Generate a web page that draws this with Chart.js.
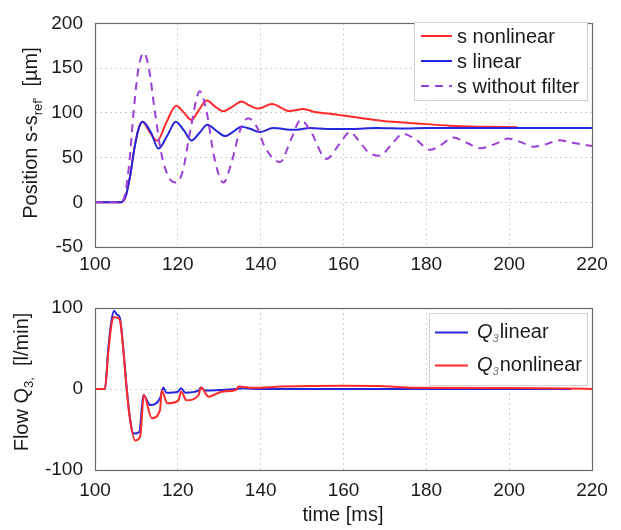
<!DOCTYPE html>
<html><head><meta charset="utf-8">
<script src="https://cdn.jsdelivr.net/npm/chart.js@4.4.1/dist/chart.umd.min.js"></script>
<style>
body{margin:0;background:#fff;width:621px;height:530px;overflow:hidden;position:relative}
#c1{position:absolute;left:0;top:0;width:621px;height:280px}
#c2{position:absolute;left:0;top:280px;width:621px;height:250px}
</style></head><body>
<canvas id="c1" width="621" height="280"></canvas>
<canvas id="c2" width="621" height="250"></canvas>
<script>
// ---------- data ----------
const xTickValues = [100, 120, 140, 160, 180, 200, 220];
const topYTicks = [-50, 0, 50, 100, 150, 200];
const bottomYTicks = [-100, 0, 100];

const topLegend = ['s nonlinear', 's linear', 's without filter'];
const bottomLegend = ['linear', 'nonlinear'];

const sNonlinearT = [100,106.3,107.5,108.5,109.5,110.5,111.5,113,115,117.3,119.6,121.5,123.3,125.2,127,129,131,133.2,135.4,137.4,139.4,142.7,147,150.3,153,156.7,163,169.6,177.7,185.7,193.7,202];
const sNonlinearV = [0,0,8,30,60,82,90,80,68.7,90,108,100,92,104,113.7,107,101.8,107,112.7,108,104.8,109.8,102,104.4,101,99,95,91,88.2,85.6,84.5,84];

const sLinearT = [100,106.3,107.5,108.5,109.5,110.5,111.5,113.5,115.3,117.5,119.5,121.5,123.3,125.3,127.1,129.3,131.4,133.4,135.4,137.6,139.8,143,148,152,156,162,168,175,180,190,200,210,220];
const sLinearV = [0,0,8,30,60,82,90,78,60,75,90,80,69,78,86.7,80,74,79,84.5,82,78.5,83,81,83,82,82,83,82.5,83,83,83,83,83];

const sNoFilterT = [100,106.3,107.3,108.3,109.3,110.5,111.8,113,114.5,116,117.8,119.6,121.2,123,125.3,127,128.8,131,133,135,137,139,141,144.7,147.3,149.7,152,155.9,159,161.6,163.5,166,168.8,171.5,174.4,177.5,180.9,183.5,186.5,190,193,196.5,199.8,203,205.8,209,211.9,216,220];
const sNoFilterV = [0,0,10,45,100,150,167,150,100,55,28,22,35,80,124,100,50,22,45,80,94,85,62,45,70,92,80,48.5,65,78.5,70,56,52,64,76.6,70,58.6,64,72.3,66,60.4,65,71.2,67,62.2,65,69.4,66,62.9];

const q3LinearT = [100,102.4,103.2,104,104.6,105.3,106,106.8,107.5,108.3,109.3,110.7,111.7,113.3,115.7,116.5,117.2,120,120.8,121.8,125,125.6,126.5,130.6,134,135.5,140,150,215];
const q3LinearV = [0,0,50,85,96.7,92,88,52,10,-30,-55,-53,-7.4,-19.8,-11.5,2,-4.5,-3.3,1,-4.5,-2,2,-2,-1.2,0,0.8,0,0,0];

const q3NonlinearT = [100,102.4,103.2,104,104.6,105.3,106,106.8,107.5,108.3,109.7,110.9,111.8,113.7,115.7,116.1,117.5,120.1,120.8,122.1,125,125.6,127.4,130.6,134,134.7,138,145,160,170,176.8,200,215,220];
const q3NonlinearV = [0,0,45,80,89,88,85,50,8,-32,-63.5,-58.8,-7.4,-36,-26,-2,-17.7,-14.4,-3.3,-14,-7.4,2,-9.5,-3.4,-1.2,3,1.5,3,4,3.5,1.5,1.2,0.5,0];

// ---------- helpers ----------
const FONT = '"Liberation Sans", Arial, Helvetica, sans-serif';
const RED = '#ff2a2a', BLUE = '#2626dc', PURPLE = '#9b3fd8';
const pts = (t, v) => t.map((x, i) => ({x, y: v[i]}));

function drawBox(chart) {
  const {ctx, chartArea: a} = chart;
  ctx.save();
  ctx.strokeStyle = '#6a6a6a';
  ctx.lineWidth = 1.2;
  ctx.strokeRect(Math.round(a.left) + 0.5, Math.round(a.top) + 0.5, Math.round(a.right - a.left), Math.round(a.bottom - a.top));
  ctx.restore();
}

// draws a rotated label made of parts: {t, sub}
function drawRotLabel(ctx, parts, cx, cy, baseX) {
  ctx.save();
  const big = '20px ' + FONT, small = '13px ' + FONT;
  let w = 0;
  parts.forEach(p => { ctx.font = p.sub ? small : big; p.w = ctx.measureText(p.t).width; w += p.w; });
  ctx.translate(baseX, cy);
  ctx.rotate(-Math.PI / 2);
  ctx.fillStyle = '#1a1a1a';
  ctx.textBaseline = 'alphabetic';
  ctx.textAlign = 'left';
  let x = -w / 2;
  parts.forEach(p => {
    ctx.font = p.sub ? small : big;
    ctx.fillText(p.t, x, p.sub ? 5 : 0);
    x += p.w;
  });
  ctx.restore();
}

const topPlugin = {
  id: 'topDeco',
  afterDraw(chart) {
    const ctx = chart.ctx;
    drawBox(chart);
    // legend
    ctx.save();
    ctx.fillStyle = '#fff';
    ctx.fillRect(414, 22, 173, 78);
    ctx.strokeStyle = '#d0d0d0';
    ctx.lineWidth = 1;
    ctx.strokeRect(414.5, 22.5, 173, 78);
    const cols = [RED, BLUE, PURPLE];
    const ys = [36, 61, 86];
    ctx.font = '20px ' + FONT;
    ctx.textBaseline = 'middle';
    topLegend.forEach((lab, i) => {
      ctx.beginPath();
      ctx.strokeStyle = cols[i];
      ctx.lineWidth = 2;
      ctx.setLineDash(i === 2 ? [8, 6] : []);
      ctx.moveTo(421, ys[i]); ctx.lineTo(452, ys[i]);
      ctx.stroke();
      ctx.setLineDash([]);
      ctx.fillStyle = '#1a1a1a';
      ctx.fillText(lab, 457, ys[i] + 1);
    });
    ctx.restore();
    drawRotLabel(ctx, [{t: 'Position s-s'}, {t: "ref'", sub: true}, {t: '  [µm]'}], 30, 133, 37);
  }
};

const bottomPlugin = {
  id: 'botDeco',
  afterDraw(chart) {
    const ctx = chart.ctx;
    drawBox(chart);
    ctx.save();
    ctx.fillStyle = '#fff';
    ctx.fillRect(429, 33, 158, 72);
    ctx.strokeStyle = '#d0d0d0';
    ctx.lineWidth = 1;
    ctx.strokeRect(429.5, 33.5, 158, 72);
    const cols = [BLUE, RED];
    const ys = [52.5, 85.5];
    ctx.textBaseline = 'middle';
    bottomLegend.forEach((lab, i) => {
      ctx.beginPath();
      ctx.strokeStyle = cols[i];
      ctx.lineWidth = 2;
      ctx.moveTo(435, ys[i]); ctx.lineTo(468, ys[i]);
      ctx.stroke();
      ctx.fillStyle = '#1a1a1a';
      ctx.font = 'italic 20px ' + FONT;
      ctx.fillText('Q', 477, ys[i]);
      let x = 477 + ctx.measureText('Q').width;
      ctx.font = 'italic 11px ' + FONT;
      ctx.fillStyle = '#777';
      ctx.fillText('3', x, ys[i] + 6);
      x += ctx.measureText('3').width + 1;
      ctx.font = '20px ' + FONT;
      ctx.fillStyle = '#1a1a1a';
      ctx.fillText(lab, x, ys[i]);
    });
    // x title
    ctx.font = '20px ' + FONT;
    ctx.textAlign = 'center';
    ctx.textBaseline = 'middle';
    ctx.fillText('time [ms]', 343, 235);
    ctx.restore();
    drawRotLabel(ctx, [{t: 'Flow Q'}, {t: '3,', sub: true}, {t: '  [l/min]'}], 24, 102, 28);
  }
};

function makeScales(yTicks, xPad, xHeight) {
  return {
    x: {
      type: 'linear', min: 100, max: 220,
      afterBuildTicks: s => { s.ticks = xTickValues.map(v => ({value: v})); },
      afterFit: s => { s.height = xHeight; },
      grid: {color: '#cfcfcf', drawTicks: false},
      border: {display: false, dash: [2, 3]},
      ticks: {color: '#1a1a1a', font: {family: FONT, size: 19}, padding: xPad, maxRotation: 0, autoSkip: false}
    },
    y: {
      type: 'linear', min: yTicks[0], max: yTicks[yTicks.length - 1],
      afterBuildTicks: s => { s.ticks = yTicks.map(v => ({value: v})); },
      afterFit: s => { s.width = 95; },
      grid: {color: '#cfcfcf', drawTicks: false},
      border: {display: false, dash: [2, 3]},
      ticks: {color: '#1a1a1a', font: {family: FONT, size: 19}, padding: 12, autoSkip: false}
    }
  };
}

const dsBase = {pointRadius: 0, borderWidth: 2, fill: false, cubicInterpolationMode: 'monotone', tension: 0.4};

new Chart(document.getElementById('c1'), {
  type: 'line',
  data: {
    datasets: [
      Object.assign({label: topLegend[0], data: pts(sNonlinearT, sNonlinearV), borderColor: RED, order: 2}, dsBase),
      Object.assign({label: topLegend[1], data: pts(sLinearT, sLinearV), borderColor: BLUE, order: 1}, dsBase),
      Object.assign({label: topLegend[2], data: pts(sNoFilterT, sNoFilterV), borderColor: PURPLE, borderDash: [8, 6], order: 0}, dsBase)
    ]
  },
  options: {
    responsive: false, animation: false, devicePixelRatio: 1,
    layout: {padding: {left: 0, top: 16, right: 29, bottom: 0}},
    plugins: {legend: {display: false}, tooltip: {enabled: false}},
    scales: makeScales(topYTicks, 6, 33)
  },
  plugins: [topPlugin]
});

new Chart(document.getElementById('c2'), {
  type: 'line',
  data: {
    datasets: [
      Object.assign({label: 'Q3 linear', data: pts(q3LinearT, q3LinearV), borderColor: BLUE, order: 1}, dsBase),
      Object.assign({label: 'Q3 nonlinear', data: pts(q3NonlinearT, q3NonlinearV), borderColor: RED, order: 0}, dsBase)
    ]
  },
  options: {
    responsive: false, animation: false, devicePixelRatio: 1,
    layout: {padding: {left: 0, top: 28, right: 29, bottom: 0}},
    plugins: {legend: {display: false}, tooltip: {enabled: false}},
    scales: makeScales(bottomYTicks, 9.5, 60)
  },
  plugins: [bottomPlugin]
});
</script>
</body></html>
